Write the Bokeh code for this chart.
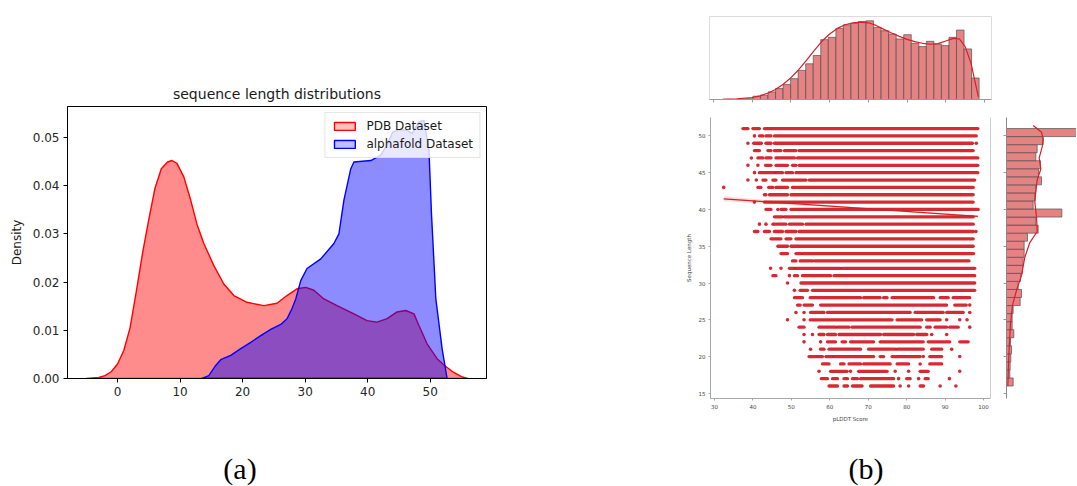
import numpy as np
from bokeh.plotting import figure
from bokeh.models import (FixedTicker, NumeralTickFormatter, LinearAxis, Legend,
                          LegendItem, Div, Spacer, Range1d)
from bokeh.layouts import row, column
from bokeh.embed import file_html
from bokeh.resources import INLINE

# ---------------- (a) KDE of sequence lengths ----------------
pdb_x = [-5, -3, -2, -1, 0, 1, 2, 3, 4, 5, 6, 7, 8, 8.7, 9.5, 10.6, 11.7, 12.7, 13.8, 15.4, 17,
         18.6, 20.7, 23.4, 25.5, 27.1, 28.7, 30.1, 31.4, 33, 35.1, 37.8, 39.9, 41.5, 43.1, 44.7,
         46.1, 47.4, 48.2, 49.5, 51.1, 52.2, 53.7, 55, 56]
pdb_y = [0, 0.0002, 0.0006, 0.0014, 0.003, 0.0058, 0.0105, 0.018, 0.026, 0.033, 0.0395, 0.0435,
         0.0449, 0.0452, 0.0446, 0.0418, 0.037, 0.032, 0.028, 0.0234, 0.0196, 0.0172, 0.0158,
         0.0151, 0.0156, 0.0172, 0.0186, 0.0189, 0.0183, 0.0165, 0.0151, 0.0134, 0.012, 0.0117,
         0.0124, 0.0138, 0.0141, 0.0134, 0.011, 0.0072, 0.0041, 0.0028, 0.0013, 0.0004, 0]
af_x = [13.5, 14.6, 15.7, 16.5, 18.1, 19.7, 21.3, 22.9, 24.5, 26.1, 27.1, 27.9, 28.5, 29.3, 30.3,
        32.5, 34.6, 35.4, 36.2, 37.3, 37.8, 40.5, 42.1, 43.2, 44, 45, 46.3, 47.1, 48.2, 49, 49.8,
        50.2, 50.9, 51.9, 52.7]
af_y = [0, 0.0006, 0.0027, 0.0039, 0.0048, 0.0062, 0.0075, 0.0089, 0.0102, 0.0112, 0.0124, 0.0145,
        0.0165, 0.0203, 0.0228, 0.0248, 0.028, 0.030, 0.037, 0.0435, 0.0449, 0.0452, 0.0463,
        0.0487, 0.0511, 0.0516, 0.0515, 0.0508, 0.0532, 0.0535, 0.0473, 0.0342, 0.0165, 0.0062, 0]
a_xticks = [0, 10, 20, 30, 40, 50]
a_yticks = [0, 0.01, 0.02, 0.03, 0.04, 0.05]

# ---------------- (b) pLDDT vs sequence length ----------------
top_hist_lo, top_hist_hi, top_hist_n = 32.4, 98.6, 34
top_hist_counts = [0.5, 0, 1, 2.5, 10, 13, 23, 33, 45, 63, 88, 108, 133, 181, 188, 215, 226, 230,
                   236, 238, 218, 208, 198, 183, 196, 170, 160, 176, 168, 163, 188, 210, 153, 65]
top_kde_x = [32.4, 36, 40, 42, 44, 46, 48, 50, 52, 54, 56, 58, 60, 62, 64, 66, 68, 70, 72, 74, 76,
             78, 80, 82, 84, 86, 88, 90, 92, 93.5, 95, 96.5, 98.4]
top_kde_y = [0.5, 2, 6, 11, 19, 30, 46, 66, 90, 118, 148, 176, 198, 215, 226, 232, 234, 232, 224,
             212, 201, 191, 182, 175, 170, 167, 169, 177, 185, 183, 160, 110, 8]

side_hist_lo, side_hist_hi, side_hist_n = 16, 51, 32
side_hist_counts = [20, 10, 11, 13, 15, 12, 22, 17, 17, 20, 41, 45, 35, 42, 48, 50, 53, 53, 63, 95,
                    88, 166, 80, 85, 88, 105, 96, 102, 88, 92, 110, 260]
side_kde_y = [51.4, 50.5, 49.5, 48.5, 47, 45.5, 44, 42.5, 41, 39, 37, 35.5, 33.5, 31, 29, 27, 24.5,
              22, 19, 16]
side_kde_x = [80, 105, 110, 107, 98, 103, 92, 88, 85, 90, 92, 70, 55, 45, 30, 18, 12, 9, 6, 4]

seq_lengths = list(range(51, 15, -1))
plddt_runs = [
    [(37.4, 38.7), (40, 41.7), (43, 98.5)],
    [(40.4, 40.4), (41.7, 42.6), (43.4, 44.7), (45.6, 98.1)],
    [(38.7, 38.7), (40.2, 42.2), (43.4, 44.7), (45.6, 97.1), (98.1, 98.1)],
    [(40.4, 41.7), (43.9, 44.7), (45.6, 47.3), (48.2, 51.2), (52, 97.3)],
    [(39.6, 39.6), (41.3, 42.6), (43.4, 44.7), (46, 50.8), (51.6, 98.5)],
    [(38.7, 38.7), (41.3, 41.3), (43.3, 44.7), (46, 49), (50.3, 51.2), (52, 98.5)],
    [(40.4, 40.4), (41.7, 45.6), (46, 47.7), (48.6, 50.3), (51.2, 98.5)],
    [(38.7, 38.7), (40.9, 40.9), (42.6, 43.4), (45.2, 46), (47.7, 53.8), (54.6, 97.7)],
    [(32.4, 32.4), (41.3, 42.1), (44.1, 45.2), (46, 49), (50.3, 97.3)],
    [(43, 43.4), (44.3, 49), (49.9, 97.3)],
    [(40.4, 40.4), (43, 97.3)],
    [(43.4, 44.7), (46.5, 46.5), (47.3, 48.6), (49.9, 98.6)],
    [(45.6, 47.7), (48.2, 97.3)],
    [(41.7, 41.7), (43.4, 43.4), (45.2, 48.6), (49.5, 52.9), (53.8, 97.3)],
    [(40.4, 41.3), (43, 44.3), (45.6, 47.7), (48.6, 51.2), (52, 97.3), (98, 98)],
    [(44.7, 47.3), (48.6, 49.9), (51.2, 97.3)],
    [(46.5, 49), (49.9, 97.3)],
    [(47.3, 49), (51.2, 52.5), (53, 97.4)],
    [(50.3, 51.2), (52.3, 55.5), (56.1, 96.2)],
    [(44.6, 44.6), (47.3, 47.3), (49.5, 50.8), (51.2, 62.8), (63.2, 97.7)],
    [(45.2, 46), (49.5, 49.5), (50.8, 51.6), (52.9, 60.2), (61.1, 97.7)],
    [(49, 49), (52.5, 97.7)],
    [(50.8, 50.8), (52.3, 54.2), (55.5, 97.7)],
    [(50.8, 52.9), (54.9, 68), (68.8, 73.1), (74, 74.9), (76.2, 87), (88.7, 90.8), (92.1, 96.4)],
    [(51.6, 52.3), (53.3, 55.5), (57.6, 90.4), (92.5, 95.5), (96.4, 96.4)],
    [(51.2, 51.2), (53.3, 53.3), (55, 58.5), (59.4, 80.9), (82.2, 89.5), (90.4, 94.7), (96.4, 96.4)],
    [(49, 49), (53.3, 53.3), (54.9, 76.2), (77.5, 83.9), (85.2, 88.7), (90.4, 90.4), (93.8, 93.8),
     (95.7, 95.7)],
    [(52, 53.3), (57.2, 61.5), (62, 65), (65.8, 83.5), (85.2, 86.1), (87.4, 90.4), (91.2, 93.4),
     (96.4, 96.4)],
    [(53.3, 53.3), (55.5, 55.5), (57.2, 58.5), (59.4, 61.5), (62.4, 73.2), (74, 81.8), (82.6, 85.2),
     (86.5, 86.5), (90.4, 90.4)],
    [(53.3, 53.3), (57.6, 57.6), (59.4, 61.5), (63.2, 64.1), (65.4, 71.4), (73.1, 84.3), (85.6, 91.2),
     (93.8, 96)],
    [(55, 55), (57.6, 58.5), (59.8, 68), (70.1, 77), (77.5, 84.3), (86.5, 89.1), (91.7, 91.7)],
    [(54.6, 58.1), (59, 60.7), (61.1, 71.4), (73.1, 74), (76.2, 83.5), (84.3, 84.3), (86, 89.1),
     (93.8, 93.8)],
    [(58.1, 59.8), (62.8, 63.7), (65, 68), (68.8, 75.7), (77.5, 80.5), (83.5, 83.5), (86, 89.1)],
    [(57.2, 57.2), (60.2, 64.5), (65.4, 65.4), (67.5, 74.9), (77, 77), (80.5, 80.5), (83.5, 85.6),
     (93.8, 93.8)],
    [(57.8, 59.4), (60.7, 62), (63.7, 64.6), (65.9, 67.2), (68, 76.6), (77.9, 77.9), (80, 80.9),
     (83.1, 83.1), (84.8, 85.6), (91.1, 91.1)],
    [(59.8, 62), (63.7, 64.6), (65.9, 68.4), (70.6, 76.6), (78.3, 78.3), (80.5, 80.5), (83.5, 84.4),
     (88.7, 88.7), (92.8, 92.8)],
]
reg_x = [32.4, 98.5]
reg_y = [41.45, 39.05]
band_x = [32.4, 45, 60, 75, 90, 98.5]
band_lo = [41.1, 40.77, 40.33, 39.82, 39.24, 38.87]
band_hi = [41.8, 41.21, 40.57, 39.98, 39.48, 39.23]
b_xticks = [30, 40, 50, 60, 70, 80, 90, 100]
b_yticks = [15, 20, 25, 30, 35, 40, 45, 50]

FONT = "DejaVu Sans"

# ======================= panel (a) =======================
pa = figure(width=494, height=418, x_range=(-8, 59), y_range=(0, 0.0564),
            output_backend="svg", toolbar_location=None,
            min_border_left=67, min_border_top=106, min_border_right=8, min_border_bottom=40,
            title="sequence length distributions")
pa.title.align = "center"
pa.title.text_font = FONT
pa.title.text_font_size = "14px"
pa.title.text_font_style = "normal"
pa.title.text_color = "#1a1a1a"
pa.xgrid.visible = False
pa.ygrid.visible = False
pa.outline_line_color = "black"
pa.outline_line_width = 1
for ax in (pa.xaxis[0], pa.yaxis[0]):
    ax.axis_line_color = "black"
    ax.major_tick_line_color = "black"
    ax.major_tick_out = 4
    ax.major_tick_in = 0
    ax.minor_tick_line_color = None
    ax.major_label_text_font = FONT
    ax.major_label_text_font_size = "12px"
    ax.major_label_text_color = "#262626"
    ax.major_label_standoff = 4
pa.xaxis.ticker = FixedTicker(ticks=a_xticks)
pa.yaxis.ticker = FixedTicker(ticks=a_yticks)
pa.yaxis.formatter = NumeralTickFormatter(format="0.00")
pa.yaxis.axis_label = "Density"
pa.yaxis.axis_label_text_font = FONT
pa.yaxis.axis_label_text_font_size = "12px"
pa.yaxis.axis_label_text_font_style = "normal"
pa.yaxis.axis_label_text_color = "#1a1a1a"
pa.yaxis.axis_label_standoff = 6

pa.patch(pdb_x, pdb_y, fill_color="red", fill_alpha=0.45, line_color="red", line_width=1.4)
pa.patch(af_x, af_y, fill_color="blue", fill_alpha=0.45, line_color="blue", line_width=1.4)
leg_r = pa.patch(x=[np.nan], y=[np.nan], fill_color="red", fill_alpha=0.25, line_color="red",
                 line_width=1.4)
leg_b = pa.patch(x=[np.nan], y=[np.nan], fill_color="blue", fill_alpha=0.25, line_color="blue",
                 line_width=1.4)
legend = Legend(items=[LegendItem(label="PDB Dataset", renderers=[leg_r]),
                       LegendItem(label="alphafold Dataset", renderers=[leg_b])],
                location="top_right", label_text_font=FONT, label_text_font_size="12px",
                label_text_color="#1a1a1a", glyph_width=26, glyph_height=10, label_standoff=9,
                label_height=14, spacing=4, padding=6, margin=6, border_line_color="#cccccc",
                background_fill_alpha=0.8)
pa.add_layout(legend)

div_a = Div(text="(a)", width=480, height=68, margin=0,
            styles={"font-family": "Liberation Serif", "font-size": "30px", "text-align": "center",
                    "padding-top": "30px", "color": "black", "width": "480px"})

# ======================= panel (b) =======================
shared_x = Range1d(28.97, 101.8)
shared_y = Range1d(14.3, 52.5)
BAR_FILL = "#e58383"
BAR_LINE = "#4d4d4d"
LINE_RED = "#d42028"
DOT_RED = "#d1121c"


def hide_labels(ax):
    ax.major_label_text_font_size = "1px"
    ax.major_label_text_color = None
    ax.major_label_standoff = 0


# top marginal histogram
pt = figure(width=328, height=108, x_range=shared_x, y_range=(0, 251),
            output_backend="svg", toolbar_location=None,
            min_border_left=41, min_border_right=5, min_border_top=16, min_border_bottom=9)
pt.xgrid.visible = False
pt.ygrid.visible = False
pt.yaxis.visible = False
pt.outline_line_color = "#dcdcdc"
pt.xaxis.ticker = FixedTicker(ticks=b_xticks)
pt.xaxis.axis_line_color = "#9a9a9a"
pt.xaxis.major_tick_line_color = "#9a9a9a"
pt.xaxis.major_tick_out = 3
pt.xaxis.major_tick_in = 0
pt.xaxis.minor_tick_line_color = None
hide_labels(pt.xaxis[0])
t_edges = np.linspace(top_hist_lo, top_hist_hi, top_hist_n + 1)
pt.quad(left=t_edges[:-1], right=t_edges[1:], bottom=0, top=top_hist_counts,
        fill_color=BAR_FILL, line_color=BAR_LINE, line_width=0.8, line_alpha=0.85)
pt.line(top_kde_x, top_kde_y, line_color=LINE_RED, line_width=1.2)

# joint scatter
ps = figure(width=330, height=320, x_range=shared_x, y_range=shared_y,
            output_backend="svg", toolbar_location=None,
            min_border_left=42, min_border_right=8, min_border_top=9, min_border_bottom=30)
ps.xgrid.visible = False
ps.ygrid.visible = False
ps.outline_line_color = None
for ax in (ps.xaxis[0], ps.yaxis[0]):
    ax.axis_line_color = "#a8a8a8"
    ax.major_tick_line_color = "#a8a8a8"
    ax.major_tick_out = 2
    ax.major_tick_in = 0
    ax.minor_tick_line_color = None
    ax.major_label_text_font = FONT
    ax.major_label_text_font_size = "5.5px"
    ax.major_label_text_color = "#444444"
    ax.major_label_standoff = 3
    ax.axis_label_text_font = FONT
    ax.axis_label_text_font_size = "5.5px"
    ax.axis_label_text_font_style = "normal"
    ax.axis_label_text_color = "#444444"
    ax.axis_label_standoff = 4
ps.xaxis.ticker = FixedTicker(ticks=b_xticks)
ps.yaxis.ticker = FixedTicker(ticks=b_yticks)
ps.xaxis.axis_label = "pLDDT Score"
ps.yaxis.axis_label = "Sequence Length"
right_spine = LinearAxis(ticker=FixedTicker(ticks=[]), axis_line_color="#cfcfcf",
                         major_tick_line_color=None, minor_tick_line_color=None)
hide_labels(right_spine)
ps.add_layout(right_spine, "right")

seg_x0, seg_x1, seg_y, dot_x, dot_y = [], [], [], [], []
for s, runs in zip(seq_lengths, plddt_runs):
    for a, b in runs:
        if b > a:
            seg_x0.append(a); seg_x1.append(b); seg_y.append(s)
        else:
            dot_x.append(a); dot_y.append(s)
ps.segment(x0=seg_x0, y0=seg_y, x1=seg_x1, y1=seg_y, line_color=DOT_RED, line_width=3.3,
           line_cap="round", line_alpha=0.9)
ps.scatter(dot_x, dot_y, size=3.6, fill_color=DOT_RED, line_color=None, fill_alpha=0.9)
ps.varea(x=band_x, y1=band_lo, y2=band_hi, fill_color=LINE_RED, fill_alpha=0.15)
ps.line(reg_x, reg_y, line_color=LINE_RED, line_width=1.3)

# right marginal histogram
pr = figure(width=78, height=320, x_range=(0, 210), y_range=shared_y,
            output_backend="svg", toolbar_location=None,
            min_border_left=8, min_border_right=0, min_border_top=9, min_border_bottom=30)
pr.xgrid.visible = False
pr.ygrid.visible = False
pr.xaxis.visible = False
pr.outline_line_color = None
pr.yaxis.ticker = FixedTicker(ticks=b_yticks)
pr.yaxis.axis_line_color = "#8a8a8a"
pr.yaxis.major_tick_line_color = "#9a9a9a"
pr.yaxis.major_tick_out = 3
pr.yaxis.major_tick_in = 0
pr.yaxis.minor_tick_line_color = None
hide_labels(pr.yaxis[0])
s_edges = np.linspace(side_hist_lo, side_hist_hi, side_hist_n + 1)
pr.quad(left=0, right=side_hist_counts, bottom=s_edges[:-1], top=s_edges[1:],
        fill_color=BAR_FILL, line_color=BAR_LINE, line_width=0.8, line_alpha=0.85)
pr.line(side_kde_x, side_kde_y, line_color=LINE_RED, line_width=1.2)

div_b = Div(text="(b)", width=396, height=58, margin=0,
            styles={"font-family": "Liberation Serif", "font-size": "30px", "text-align": "center",
                    "padding-top": "20px", "color": "black", "width": "396px"})

left_col = column(pa, div_a, spacing=0)
right_col = column(pt, row(ps, pr, spacing=0), div_b, spacing=0)
layout = row(left_col, Spacer(width=174, height=10), right_col, spacing=0)

open("out.html", "w").write(file_html(layout, INLINE))
